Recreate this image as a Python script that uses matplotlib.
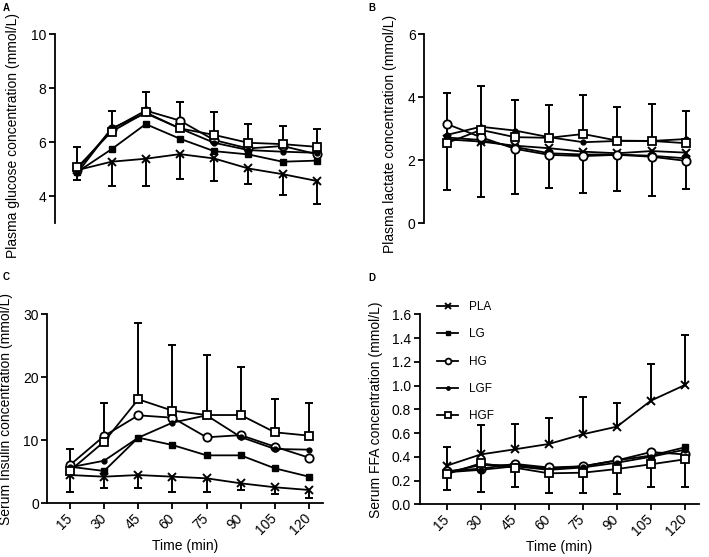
import numpy as np
import matplotlib
matplotlib.use("Agg")
import matplotlib.pyplot as plt
from matplotlib.lines import Line2D

plt.rcParams['font.family'] = ['Liberation Sans', 'DejaVu Sans']

time = [15, 30, 45, 60, 75, 90, 105, 120]
groups = ["PLA", "LG", "HG", "LGF", "HGF"]

# A: plasma glucose (mmol/L)
glucose = {
    "PLA": [4.97, 5.28, 5.39, 5.56, 5.40, 5.03, 4.82, 4.57],
    "LG":  [4.90, 5.74, 6.67, 6.13, 5.67, 5.55, 5.28, 5.32],
    "HG":  [4.99, 6.48, 7.17, 6.80, 6.08, 5.77, 5.86, 5.56],
    "LGF": [4.86, 6.51, 7.07, 6.51, 5.98, 5.71, 5.65, 5.61],
    "HGF": [5.07, 6.39, 7.10, 6.51, 6.27, 5.98, 5.93, 5.83],
}
glucose_sd_up = [0.74, 0.77, 0.74, 0.99, 0.86, 0.68, 0.67, 0.67]     # on HGF
glucose_sd_down = [0.37, 0.91, 1.00, 0.91, 0.83, 0.59, 0.77, 0.87]   # on PLA

# B: plasma lactate (mmol/L)
lactate = {
    "PLA": [2.66, 2.59, 2.46, 2.38, 2.27, 2.22, 2.29, 2.24],
    "LG":  [2.72, 2.64, 2.42, 2.22, 2.18, 2.18, 2.14, 2.06],
    "HG":  [3.15, 2.73, 2.36, 2.17, 2.13, 2.17, 2.11, 1.98],
    "LGF": [2.80, 3.06, 2.94, 2.73, 2.57, 2.61, 2.61, 2.67],
    "HGF": [2.54, 2.96, 2.73, 2.71, 2.83, 2.62, 2.61, 2.54],
}
lactate_sd_up = [1.58, 1.40, 1.18, 1.04, 1.23, 1.08, 1.17, 1.02]     # on HGF
lactate_sd_down = [1.60, 1.75, 1.54, 1.25, 1.30, 1.19, 1.42, 1.16]   # on PLA

# C: serum insulin
insulin = {
    "PLA": [4.48, 4.22, 4.48, 4.22, 3.96, 3.17, 2.54, 2.11],
    "LG":  [5.80, 5.12, 10.40, 9.24, 7.60, 7.60, 5.54, 4.22],
    "HG":  [6.07, 10.67, 13.94, 13.57, 10.46, 10.80, 8.97, 7.23],
    "LGF": [5.70, 6.75, 10.40, 12.78, 13.94, 10.50, 8.61, 8.50],
    "HGF": [5.17, 9.77, 16.48, 14.68, 13.99, 13.99, 11.25, 10.72],
}
insulin_sd_up = [3.44, 6.08, 12.02, 10.42, 9.51, 7.56, 5.28, 5.13]   # on HGF
insulin_sd_down = [2.64, 1.85, 2.11, 2.38, 2.22, 1.10, 1.07, 1.22]   # on PLA

# D: serum FFA (mmol/L)
ffa = {
    "PLA": [0.325, 0.42, 0.463, 0.508, 0.59, 0.654, 0.873, 1.005],
    "LG":  [0.27, 0.33, 0.33, 0.30, 0.32, 0.37, 0.41, 0.48],
    "HG":  [0.28, 0.30, 0.34, 0.31, 0.32, 0.37, 0.44, 0.42],
    "LGF": [0.27, 0.29, 0.32, 0.29, 0.31, 0.35, 0.40, 0.46],
    "HGF": [0.255, 0.345, 0.308, 0.261, 0.266, 0.297, 0.337, 0.379],
}
ffa_sd_up = [0.155, 0.248, 0.213, 0.219, 0.316, 0.196, 0.307, 0.421]  # on PLA
ffa_sd_down = [0.135, 0.239, 0.16, 0.163, 0.168, 0.21, 0.194, 0.236]  # on HGF

styles = {
    "PLA": dict(marker="x", ms=5.5, mew=1.4, mfc="black"),
    "LG":  dict(marker="s", ms=4.5, mfc="black"),
    "HG":  dict(marker="o", ms=6, mfc="white", mew=1.3),
    "LGF": dict(marker="o", ms=3.5, mfc="black"),
    "HGF": dict(marker="s", ms=6, mfc="white", mew=1.3),
}

W, H = 709, 557
fig = plt.figure(figsize=(W / 100, H / 100), dpi=100)


def px_axes(left, top, right, bottom):
    return fig.add_axes([left / W, 1 - bottom / H, (right - left) / W, (bottom - top) / H])


def one_sided(ax, x, y, sd, sign):
    y = np.asarray(y)
    tip = y + sign * np.asarray(sd)
    ax.vlines(x, y, tip, color="black", lw=1.4, zorder=2)
    ax.plot(x, tip, ls="none", marker="_", ms=6, mew=1.4, color="black", zorder=2)


def panel(ax, data, up, up_on, down, down_on, ylabel, ylim, yticks, fmt, xaxis, label_x, label_y):
    one_sided(ax, time, data[up_on], up, 1)
    one_sided(ax, time, data[down_on], down, -1)
    for g in groups:
        ax.plot(time, data[g], color="black", lw=1.3, mec="black", label=g, zorder=3, **styles[g])
    ax.set_ylim(*ylim)
    ax.set_yticks(yticks)
    ax.set_yticklabels([fmt.format(v) for v in yticks])
    ax.spines[["top", "right"]].set_visible(False)
    ax.spines["left"].set_linewidth(1.3)
    ax.tick_params(axis="y", direction="out", length=4, width=1.3, labelsize=10, pad=2)
    ax.set_ylabel(ylabel, fontsize=10)
    ax.yaxis.set_label_coords(label_x, label_y)
    if xaxis:
        ax.spines["bottom"].set_linewidth(1.3)
        ax.set_xticks(time)
        ax.set_xticklabels([str(t) for t in time], rotation=45, ha="right", va="center",
                           rotation_mode="anchor")
        ax.tick_params(axis="x", direction="out", length=4, width=1.3, labelsize=10, pad=5)
        ax.set_xlabel("Time (min)", fontsize=10, labelpad=1)
    else:
        ax.spines["bottom"].set_visible(False)
        ax.set_xticks([])


axA = px_axes(54.5, 34, 330.4, 223.4)
axA.set_xlim(5, 126)
panel(axA, glucose, glucose_sd_up, "HGF", glucose_sd_down, "PLA",
      "Plasma glucose concentration (mmol/L)", (3, 10), [4, 6, 8, 10], "{:.0f}",
      False, -0.125, 0.462)

axB = px_axes(423.9, 34, 699.4, 223.3)
axB.set_xlim(5, 126)
panel(axB, lactate, lactate_sd_up, "HGF", lactate_sd_down, "PLA",
      "Plasma lactate concentration (mmol/L)", (0, 6), [0, 2, 4, 6], "{:.0f}",
      False, -0.098, 0.47)

axC = px_axes(47.2, 314, 322.7, 503.3)
axC.set_xlim(5, 126)
panel(axC, insulin, insulin_sd_up, "HGF", insulin_sd_down, "PLA",
      "Serum Insulin concentration (mmol/L)", (0, 30), [0, 10, 20, 30], "{:.0f}",
      True, -0.124, 0.5)

axD = px_axes(419.5, 314.3, 698.6, 504.3)
axD.set_xlim(3, 126)
panel(axD, ffa, ffa_sd_up, "PLA", ffa_sd_down, "HGF",
      "Serum FFA concentration (mmol/L)", (0, 1.6), list(np.arange(0, 1.61, 0.2)), "{:.1f}",
      True, -0.131, 0.5)

handles = [Line2D([], [], color="black", lw=1.3, mec="black", **styles[g]) for g in groups]
fig.legend(handles, groups, loc="upper left", bbox_to_anchor=(437 / W, 1 - 301 / H),
           frameon=False, fontsize=8.5, handlelength=1.8, handletextpad=0.9,
           labelspacing=1.3, borderpad=0, borderaxespad=0, markerscale=0.7)

for letter, (x, y) in zip("ABCD", [(3, 8), (368, 8), (3, 277), (368, 278)]):
    fig.text(x / W, 1 - y / H, letter, fontsize=7, fontweight="bold", ha="left", va="center")

fig.savefig("out.png", dpi=100)
